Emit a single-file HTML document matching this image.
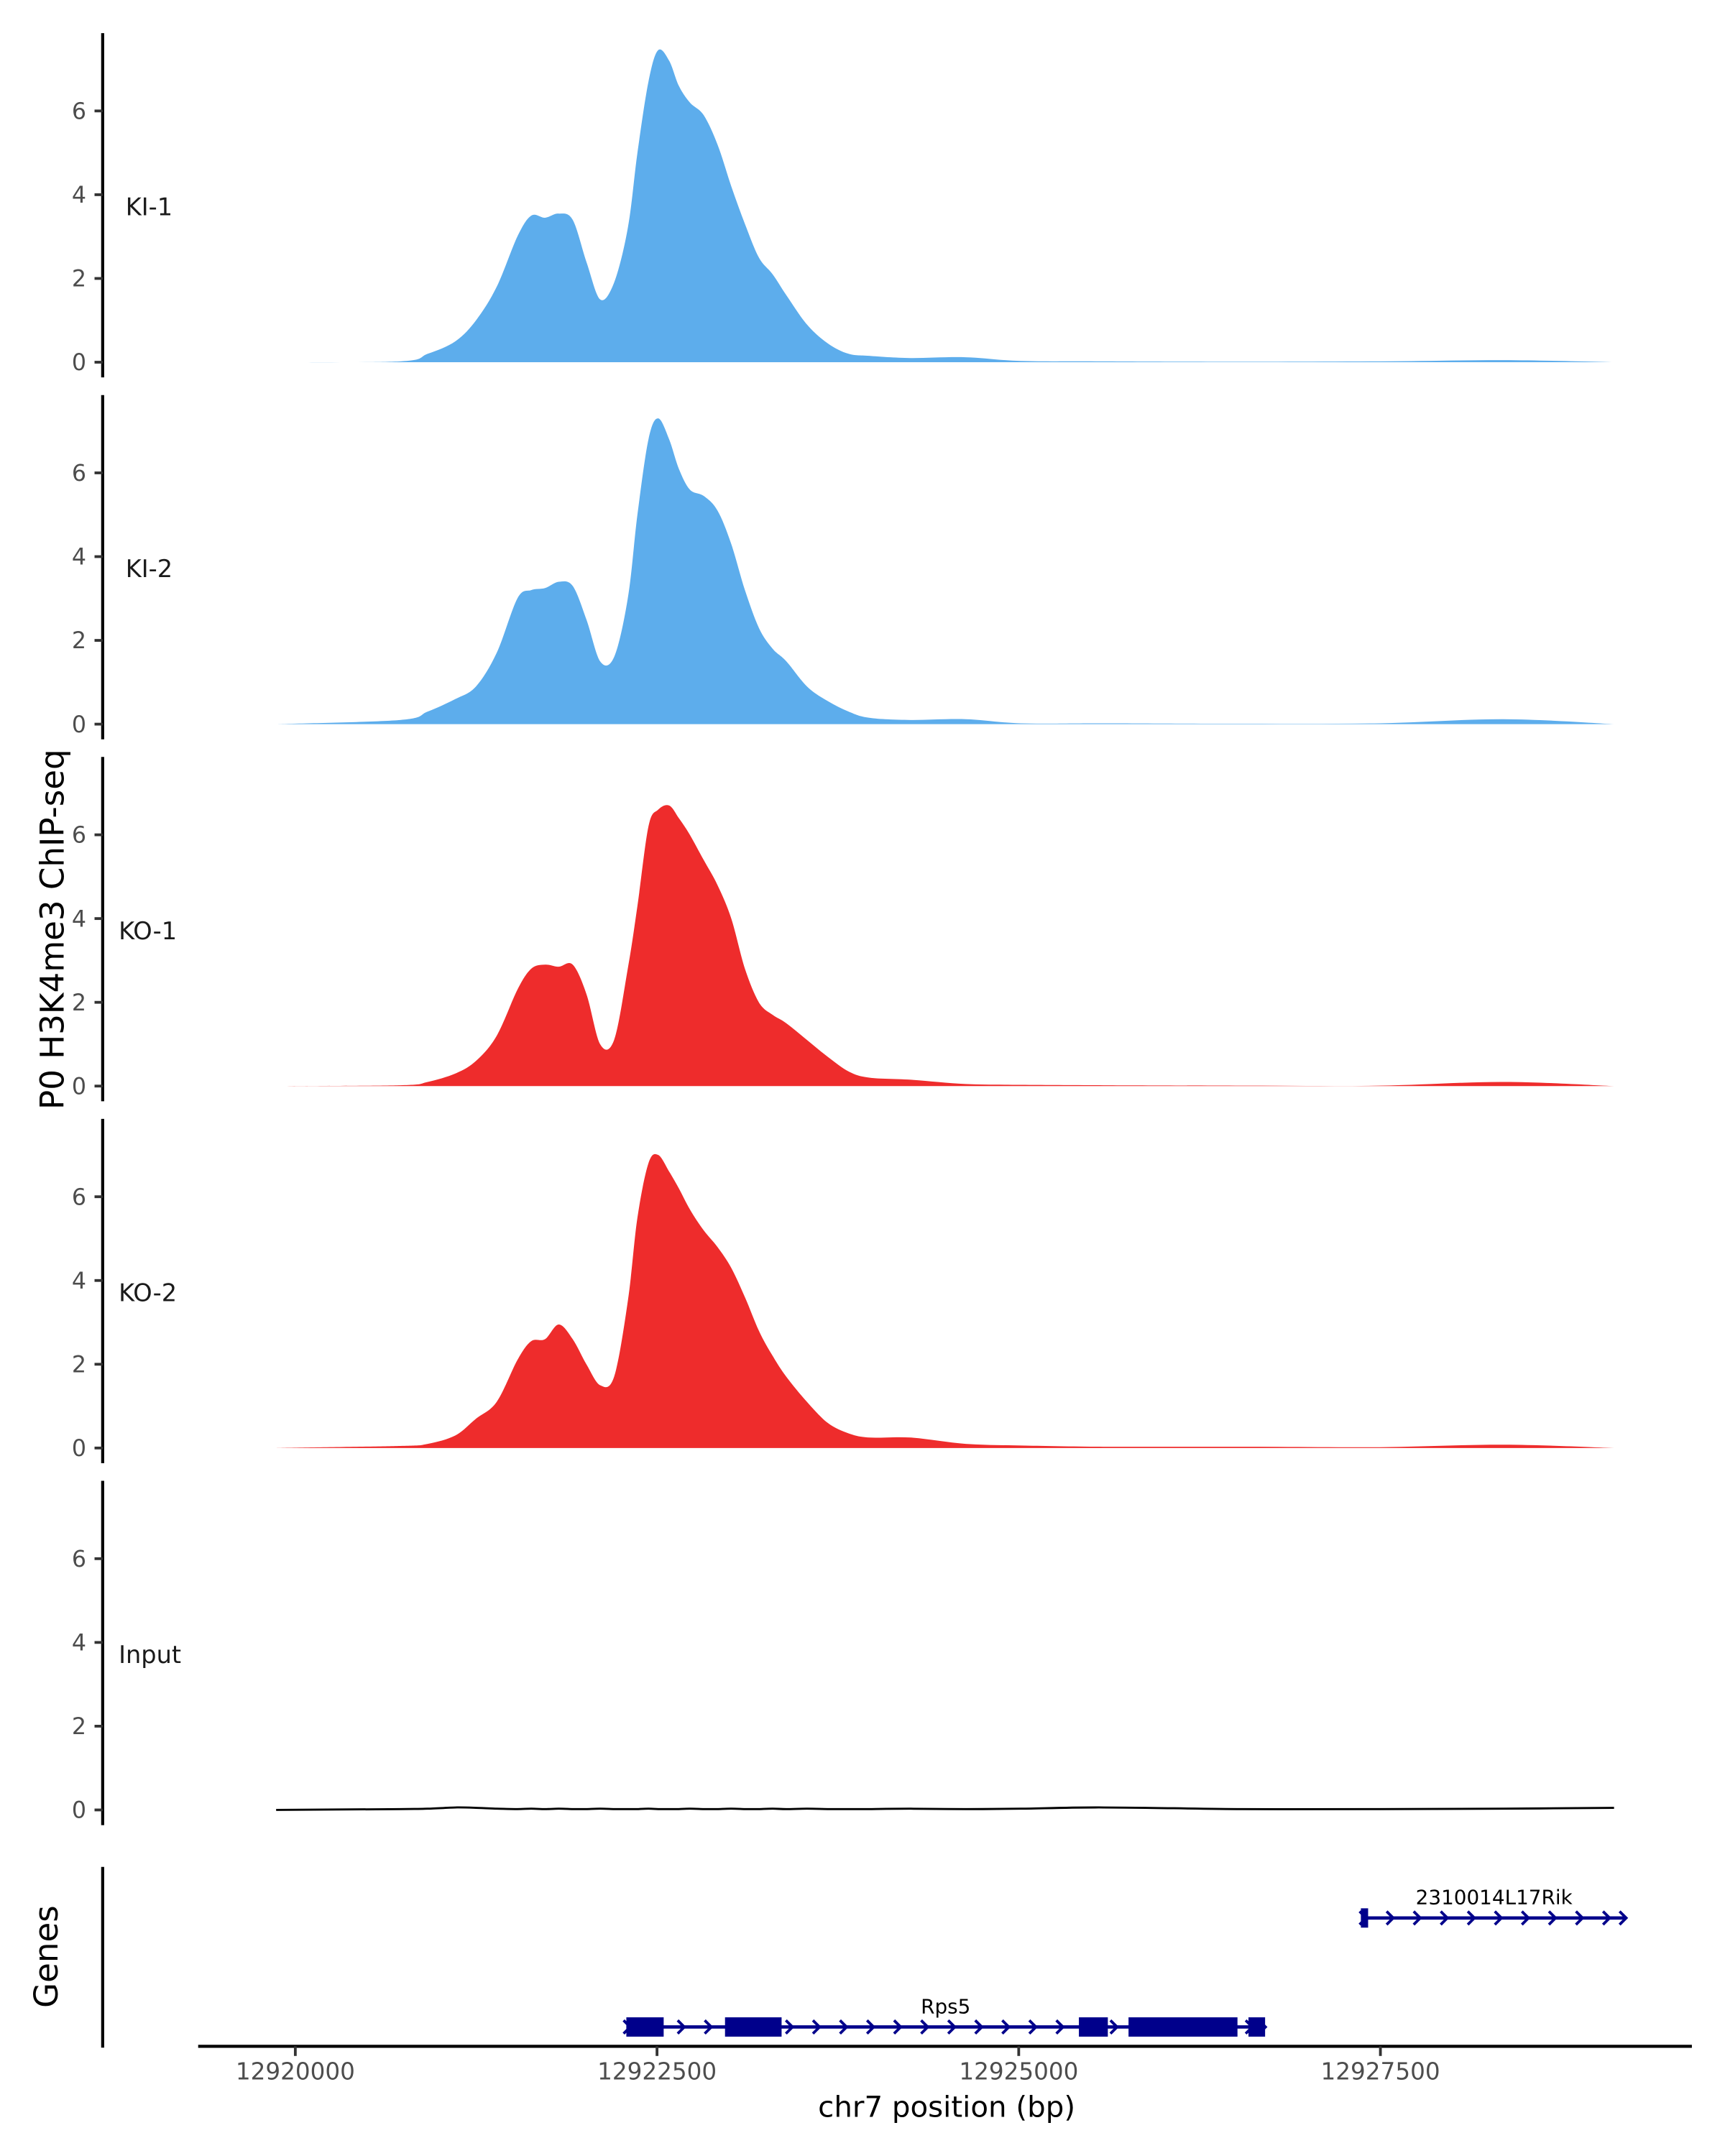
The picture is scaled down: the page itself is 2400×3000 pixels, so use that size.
<!DOCTYPE html>
<html><head><meta charset="utf-8"><style>
html,body{margin:0;padding:0;background:#fff;}
svg{display:block;font-family:"DejaVu Sans","Liberation Sans",sans-serif;}
</style></head><body>
<svg id="chart" width="2400" height="3000" viewBox="0 0 1250 1562.5" xmlns="http://www.w3.org/2000/svg">
<rect width="1250" height="1562.5" fill="#fff"/>
<g id="panels"></g>
<g id="genes"></g>
<g id="xaxis"></g>
<text x="0" y="0" transform="translate(46,673.5) rotate(-90)" text-anchor="middle" font-size="23.5" fill="#000">P0 H3K4me3 ChIP-seq</text>
<text x="0" y="0" transform="translate(41.7,1418) rotate(-90)" text-anchor="middle" font-size="23.5" fill="#000">Genes</text>
<text x="686" y="1534" text-anchor="middle" font-size="21" fill="#000">chr7 position (bp)</text>
</svg>
<script>
const positions = [12919867,12920725,12920915,12921106,12921249,12921392,12921535,12921630,12921726,12921821,12921917,12922012,12922107,12922203,12922298,12922365,12922441,12922508,12922584,12922651,12922727,12922822,12922918,12923013,12923108,12923204,12923299,12923394,12923537,12923680,12923824,12923967,12924253,12924634,12925015,12925587,12926541,12927495,12928353,12929115];
const ki1 = [0,0.02,0.2,0.5,1.0,1.8,3.0,3.5,3.45,3.55,3.4,2.4,1.5,1.9,3.2,5.0,6.7,7.45,7.2,6.6,6.2,5.9,5.2,4.2,3.3,2.5,2.1,1.6,0.9,0.45,0.2,0.15,0.1,0.12,0.03,0.02,0.01,0.02,0.05,0];
const ki2 = [0,0.1,0.3,0.6,0.9,1.7,3.0,3.2,3.25,3.4,3.3,2.5,1.5,1.6,3.0,5.0,6.8,7.3,6.8,6.1,5.6,5.45,5.1,4.3,3.2,2.3,1.8,1.5,0.9,0.55,0.3,0.15,0.1,0.12,0.02,0.02,0.01,0.02,0.12,0];
const ko1 = [0,0.02,0.1,0.3,0.6,1.2,2.3,2.8,2.9,2.85,2.9,2.2,1.0,1.1,2.8,4.3,6.2,6.6,6.7,6.4,6.0,5.4,4.8,4.0,2.8,2.0,1.7,1.5,1.1,0.7,0.35,0.2,0.15,0.05,0.03,0.02,0.01,0.01,0.1,0];
const ko2 = [0,0.05,0.1,0.3,0.7,1.1,2.1,2.55,2.6,2.95,2.6,2.0,1.5,1.7,3.5,5.5,6.8,7.0,6.6,6.2,5.7,5.2,4.8,4.3,3.6,2.8,2.2,1.7,1.1,0.6,0.35,0.25,0.25,0.1,0.06,0.03,0.03,0.02,0.08,0];
const inputSig = [0,0.02,0.03,0.06,0.05,0.03,0.02,0.03,0.02,0.03,0.02,0.02,0.03,0.02,0.02,0.02,0.03,0.02,0.02,0.02,0.03,0.02,0.02,0.03,0.02,0.02,0.03,0.02,0.03,0.02,0.02,0.02,0.03,0.02,0.03,0.06,0.02,0.02,0.03,0.05];
const sampleNames = ["KI-1","KI-2","KO-1","KO-2","Input"];
const sampleColors = ["#5DADEC","#5DADEC","#EE2C2C","#EE2C2C","#000000"];
const yTicks = [0,2,4,6];
const xTicks = [12920000,12922500,12925000,12927500];
const rps5Span = [12922288,12926703];
const rps5Exons = [[12922288,12922546],[12922970,12923361],[12925416,12925616],[12925759,12926512],[12926588,12926703]];
const rikSpan = [12927375,12929196];
const rikExons = [[12927365,12927415]];

const NS="http://www.w3.org/2000/svg";
function mk(tag,attrs,parent){const e=document.createElementNS(NS,tag);for(const k in attrs)e.setAttribute(k,attrs[k]);parent.appendChild(e);return e;}
const xScale = bp => 214 + (bp-12920000)*(786.3/7500);
const PX_PER_UNIT = 30.35;
function smoothPath(pts){
  let d='';
  for(let i=0;i<pts.length-1;i++){
    const p0=pts[Math.max(0,i-1)],p1=pts[i],p2=pts[i+1],p3=pts[Math.min(pts.length-1,i+2)];
    const c1x=p1[0]+(p2[0]-p0[0])/6,c1y=p1[1]+(p2[1]-p0[1])/6;
    const c2x=p2[0]-(p3[0]-p1[0])/6,c2y=p2[1]-(p3[1]-p1[1])/6;
    d+=` C${c1x.toFixed(1)},${c1y.toFixed(1)} ${c2x.toFixed(1)},${c2y.toFixed(1)} ${p2[0].toFixed(1)},${p2[1].toFixed(1)}`;
  }
  return d;
}
const allSeries=[ki1,ki2,ko1,ko2,inputSig];
const panels=document.getElementById('panels');
allSeries.forEach((vals,i)=>{
  const zero=262.5+i*262.3;
  const g=mk('g',{},panels);
  
  
  const ax=mk('line',{x1:74.4,x2:74.4,y1:zero-238.5,y2:zero+11,stroke:'#000','stroke-width':2.2},g);
  
  
  yTicks.forEach(t=>{
    const tk=mk('line',{x1:68.5,x2:74.4,y1:zero-t*PX_PER_UNIT,y2:zero-t*PX_PER_UNIT,stroke:'#333','stroke-width':2},g);
    
    
    const tl=mk('text',{x:62.5,y:zero-t*PX_PER_UNIT+5.8,'text-anchor':'end','font-size':16.5,fill:'#4d4d4d'},g);
    tl.textContent=t;
    
    
  });
  const lab=mk('text',{x:i>=2?86:91,y:zero-106.5,'font-size':17.5,fill:'#1a1a1a'},g);
  lab.textContent=sampleNames[i];
  
  
  const pts=positions.map((p,j)=>[xScale(p),zero-vals[j]*PX_PER_UNIT]);
  const curve='M'+pts[0][0].toFixed(1)+','+pts[0][1].toFixed(1)+smoothPath(pts);
  if(i<4){
    const d=curve+' L'+pts[pts.length-1][0].toFixed(1)+','+zero+' L'+pts[0][0].toFixed(1)+','+zero+' Z';
    const a=mk('path',{d:d,fill:sampleColors[i],stroke:'none'},g);
    
    
  } else {
    const a=mk('path',{d:curve,fill:'none',stroke:'#000','stroke-width':1.5},g);
    
    
  }
});
// genes
const gg=document.getElementById('genes');
const gax=mk('line',{x1:74.4,x2:74.4,y1:1353,y2:1484,stroke:'#000','stroke-width':2.2},gg);


function drawGene(name,span,exons,y,exH,lblY){
  const g=mk('g',{},gg);
  
  
  const x1=xScale(span[0]),x2=xScale(span[1]);
  mk('line',{x1:x1,x2:x2,y1:y,y2:y,stroke:'#00008B','stroke-width':2.4},g);
  const chev=x=>mk('path',{d:`M${x-3},${y-4.8} L${x+1.8},${y} L${x-3},${y+4.8}`,fill:'none',stroke:'#00008B','stroke-width':2},g);
  for(let x=x1+1;x<=x2-6;x+=19.6){chev(x);}
  chev(x2-1.5);
  exons.forEach(e=>{
    const r=mk('rect',{x:xScale(e[0]),y:y-exH/2,width:Math.max(3,xScale(e[1])-xScale(e[0])),height:exH,fill:'#00008B'},g);
    
    
  });
  const t=mk('text',{x:(x1+x2)/2,y:lblY,'text-anchor':'middle','font-size':14.5,fill:'#000'},g);
  t.textContent=name;
  
  
}
drawGene('Rps5',rps5Span,rps5Exons,1469,14,1459);
drawGene('2310014L17Rik',rikSpan,rikExons,1390,14,1380);
// x axis
const xg=document.getElementById('xaxis');
const xl=mk('line',{x1:143.6,x2:1226,y1:1483,y2:1483,stroke:'#000','stroke-width':2.2},xg);


xTicks.forEach(t=>{
  const x=xScale(t);
  const tk=mk('line',{x1:x,x2:x,y1:1483,y2:1490,stroke:'#333','stroke-width':2},xg);
  
  
  const tl=mk('text',{x:x,y:1507,'text-anchor':'middle','font-size':17,fill:'#4d4d4d'},xg);
  tl.textContent=t;
  
  
});
</script>
</body></html>
